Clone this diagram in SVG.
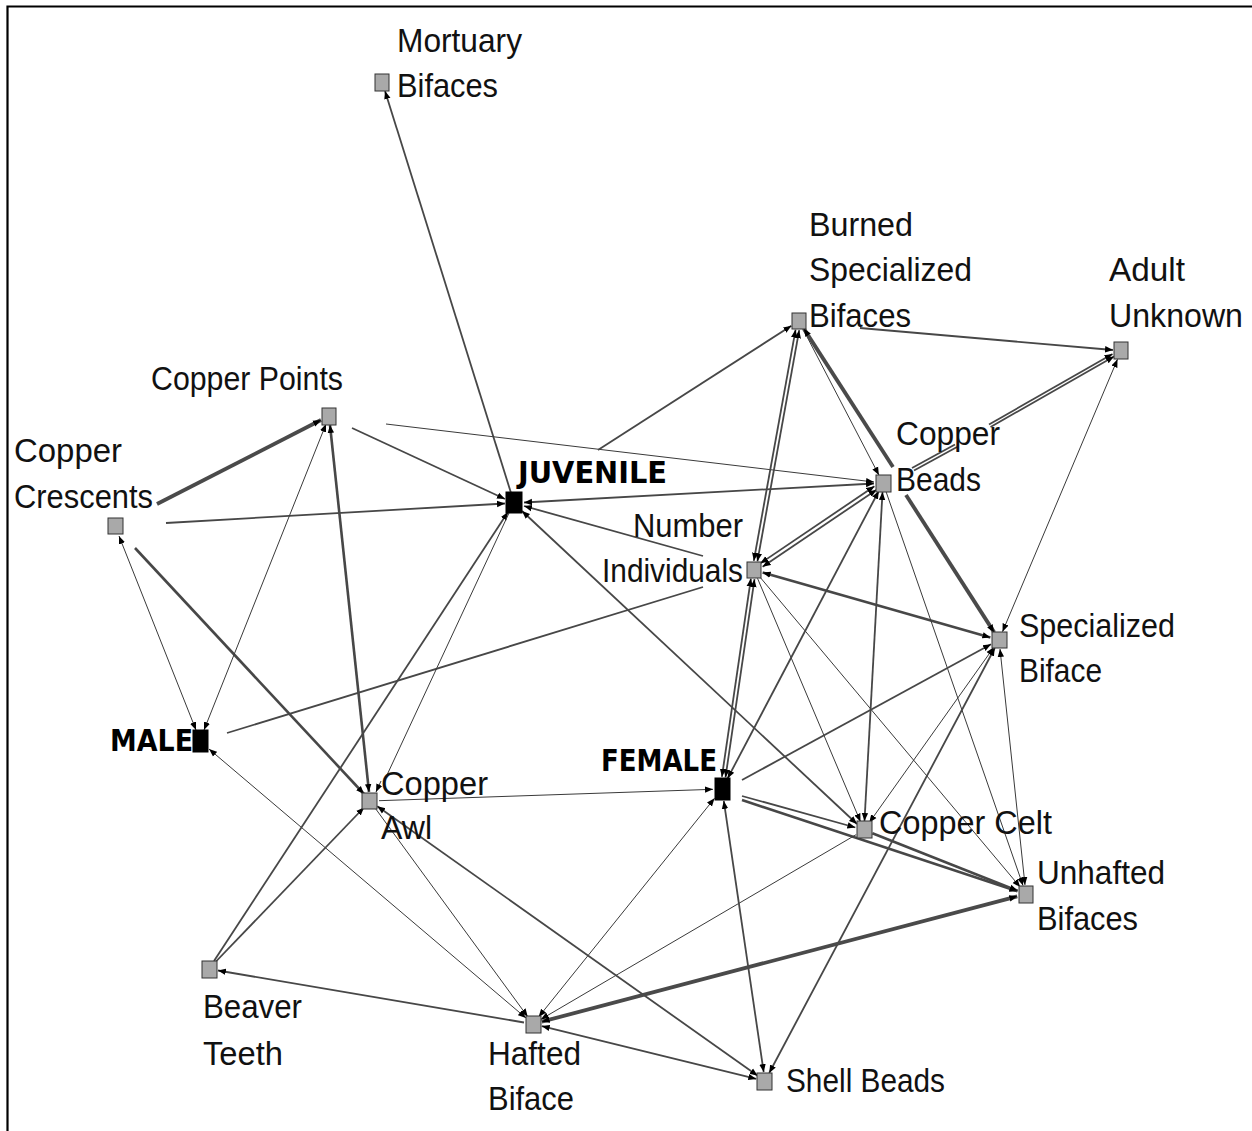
<svg xmlns="http://www.w3.org/2000/svg" width="1252" height="1131" viewBox="0 0 1252 1131">
  <style>
    .frame { stroke: #000; stroke-width: 2.2; fill: none; }
    .e { stroke: #474747; fill: none; stroke-linecap: butt; }
    .w1 { stroke-width: 1; stroke: #3a3a3a; }
    .w2 { stroke-width: 1.8; }
    .w3 { stroke-width: 2.6; }
    .w4 { stroke-width: 3.8; stroke: #4a4a4a; }
    .fwd { marker-end: url(#ah); }
    .both { marker-end: url(#ah); marker-start: url(#ah); }
    .item { fill: #a9a9a9; stroke: #333; stroke-width: 1; }
    .group { fill: #000; stroke: #000; stroke-width: 1; }
    .lbl { font-family: "Liberation Sans", Arial, sans-serif; font-size: 33px; fill: #111; }
    .bold { font-family: "DejaVu Sans", "Liberation Sans", sans-serif; font-weight: bold; font-size: 30px; fill: #000; }
  </style>
  <defs>
    <marker id="ah" viewBox="0 0 8 8" refX="8" refY="4" markerWidth="8" markerHeight="8" markerUnits="userSpaceOnUse" orient="auto-start-reverse">
      <path d="M0,0.8 L8,4 L0,7.2 Z" fill="#000"/>
    </marker>
  </defs>

  <rect width="1252" height="1131" fill="#fff"/>
  <path class="frame" d="M7.5,1131 V6.5 H1252"/>

  <g id="edges">
    <line class="e w2 fwd" x1="511" y1="493" x2="385" y2="91"/>
    <line class="e w4 fwd" x1="157" y1="504" x2="321" y2="420"/>
    <line class="e w2 fwd" x1="166" y1="523" x2="505" y2="503.5"/>
    <line class="e w3 fwd" x1="135" y1="548" x2="364" y2="794"/>
    <line class="e w1 both" x1="119" y1="536" x2="196" y2="730"/>
    <line class="e w1 both" x1="326" y1="424" x2="204" y2="730"/>
    <line class="e w2 fwd" x1="352" y1="428" x2="505" y2="499"/>
    <line class="e w1 fwd" x1="386" y1="424" x2="874" y2="482"/>
    <line class="e w3 both" x1="330" y1="425" x2="369" y2="792"/>
    <line class="e w2" x1="227" y1="733" x2="703" y2="587"/>
    <line class="e w1 both" x1="209" y1="749" x2="526" y2="1018"/>
    <line class="e w2 both" x1="524" y1="502.5" x2="874" y2="483.5"/>
    <line class="e w2 fwd" x1="703" y1="556" x2="524" y2="506"/>
    <line class="e w2 both" x1="522" y1="511" x2="857" y2="824"/>
    <line class="e w2 fwd" x1="214" y1="961" x2="508" y2="512"/>
    <line class="e w1" x1="509" y1="513" x2="387" y2="775"/>
    <line class="e w1 fwd" x1="381" y1="781" x2="376" y2="792"/>
    <line class="e w2 fwd" x1="215" y1="962.5" x2="364" y2="807.5"/>
    <line class="e w2 both" x1="762.6" y1="566.7" x2="876.6" y2="489.7"/>
    <line class="e w2 both" x1="760.4" y1="563.3" x2="874.4" y2="486.3"/>
    <line class="e w2 both" x1="757.4" y1="561.4" x2="799.2" y2="330.2"/>
    <line class="e w2 both" x1="753.8" y1="560.8" x2="795.6" y2="329.6"/>
    <line class="e w2 both" x1="754.5" y1="579.2" x2="725.5" y2="777.4"/>
    <line class="e w2 both" x1="750.9" y1="578.6" x2="721.9" y2="776.8"/>
    <line class="e w3 both" x1="762.6" y1="572.5" x2="990.4" y2="637.5"/>
    <line class="e w1 fwd" x1="757.5" y1="578.3" x2="860.5" y2="821.7"/>
    <line class="e w1 fwd" x1="759.8" y1="576.9" x2="1020.2" y2="887.1"/>
    <line class="e w1 fwd" x1="803" y1="329" x2="878.9" y2="475"/>
    <line class="e w4" x1="803.8" y1="328.6" x2="893" y2="467" marker-start="url(#ah)"/>
    <line class="e w4 fwd" x1="906" y1="495" x2="994.2" y2="632.4"/>
    <line class="e w2" x1="912" y1="468" x2="955" y2="444.5"/>
    <line class="e w2" x1="914" y1="470.5" x2="957" y2="447"/>
    <line class="e w2 fwd" x1="989" y1="424.5" x2="1112.5" y2="354"/>
    <line class="e w2 fwd" x1="990.5" y1="427" x2="1114" y2="356.5"/>
    <line class="e w2 fwd" x1="860" y1="328" x2="1113" y2="350"/>
    <line class="e w2 fwd" x1="598" y1="450" x2="791.4" y2="325.8"/>
    <line class="e w1 both" x1="1117.5" y1="359.3" x2="1002.5" y2="631.7"/>
    <line class="e w2 both" x1="882.5" y1="492" x2="864.5" y2="821"/>
    <line class="e w1 fwd" x1="886" y1="491.5" x2="1023" y2="885.5"/>
    <line class="e w2 both" x1="727.6" y1="778.4" x2="878.8" y2="491"/>
    <line class="e w2 fwd" x1="742" y1="780" x2="991" y2="644.3"/>
    <line class="e w2 fwd" x1="742" y1="796" x2="855.4" y2="827.5"/>
    <line class="e w3 fwd" x1="742" y1="800" x2="1017.5" y2="891.2"/>
    <line class="e w3 fwd" x1="872.4" y1="833.3" x2="1017.6" y2="890.7"/>
    <line class="e w1 fwd" x1="856.2" y1="834.6" x2="540.8" y2="1019.4"/>
    <line class="e w1 both" x1="869.2" y1="822.7" x2="993.8" y2="647.3"/>
    <line class="e w1 both" x1="1000" y1="649" x2="1025" y2="885"/>
    <line class="e w2 both" x1="769.2" y1="1073" x2="994.8" y2="648"/>
    <line class="e w2 both" x1="723.8" y1="800.9" x2="763.7" y2="1072.1"/>
    <line class="e w1 both" x1="714.5" y1="798.3" x2="538.6" y2="1017"/>
    <line class="e w1 fwd" x1="379" y1="800.7" x2="713" y2="789.3"/>
    <line class="e w1 fwd" x1="375.3" y1="808.3" x2="527.7" y2="1016.7"/>
    <line class="e w2 both" x1="377.3" y1="806.2" x2="757.7" y2="1075.8"/>
    <line class="e w4 both" x1="1017.3" y1="896.3" x2="541.7" y2="1021.7"/>
    <line class="e w2 fwd" x1="524" y1="1022.5" x2="217.9" y2="970.5"/>
    <line class="e w2 both" x1="541.7" y1="1026.1" x2="756.3" y2="1078.9"/>
  </g>

  <g id="node-mortuary-bifaces">
    <rect class="item" x="375" y="74" width="14" height="17"/>
    <text class="lbl" x="397" y="52" textLength="125" lengthAdjust="spacingAndGlyphs">Mortuary</text>
    <text class="lbl" x="397" y="97" textLength="101" lengthAdjust="spacingAndGlyphs">Bifaces</text>
  </g>
  <g id="node-copper-points">
    <rect class="item" x="322" y="408" width="14" height="17"/>
    <text class="lbl" x="151" y="390" textLength="192" lengthAdjust="spacingAndGlyphs">Copper Points</text>
  </g>
  <g id="node-copper-crescents">
    <rect class="item" x="108" y="518" width="15" height="16"/>
    <text class="lbl" x="14" y="462" textLength="108" lengthAdjust="spacingAndGlyphs">Copper</text>
    <text class="lbl" x="14" y="508" textLength="139" lengthAdjust="spacingAndGlyphs">Crescents</text>
  </g>
  <g id="node-juvenile">
    <rect class="group" x="506" y="492" width="16" height="21"/>
    <text class="bold" x="518" y="483" textLength="149" lengthAdjust="spacingAndGlyphs">JUVENILE</text>
  </g>
  <g id="node-number-individuals">
    <rect class="item" x="747" y="562" width="14" height="16"/>
    <text class="lbl" x="633" y="537" textLength="110" lengthAdjust="spacingAndGlyphs">Number</text>
    <text class="lbl" x="602" y="582" textLength="141" lengthAdjust="spacingAndGlyphs">Individuals</text>
  </g>
  <g id="node-burned-specialized-bifaces">
    <rect class="item" x="792" y="313" width="14" height="16"/>
    <text class="lbl" x="809" y="236" textLength="104" lengthAdjust="spacingAndGlyphs">Burned</text>
    <text class="lbl" x="809" y="281" textLength="163" lengthAdjust="spacingAndGlyphs">Specialized</text>
    <text class="lbl" x="809" y="327" textLength="102" lengthAdjust="spacingAndGlyphs">Bifaces</text>
  </g>
  <g id="node-adult-unknown">
    <rect class="item" x="1114" y="342" width="14" height="17"/>
    <text class="lbl" x="1109" y="281" textLength="76" lengthAdjust="spacingAndGlyphs">Adult</text>
    <text class="lbl" x="1109" y="327" textLength="134" lengthAdjust="spacingAndGlyphs">Unknown</text>
  </g>
  <g id="node-copper-beads">
    <rect class="item" x="876" y="475" width="15" height="17"/>
    <text class="lbl" x="896" y="445" textLength="104" lengthAdjust="spacingAndGlyphs">Copper</text>
    <text class="lbl" x="896" y="491" textLength="85" lengthAdjust="spacingAndGlyphs">Beads</text>
  </g>
  <g id="node-specialized-biface">
    <rect class="item" x="992" y="632" width="15" height="16"/>
    <text class="lbl" x="1019" y="637" textLength="156" lengthAdjust="spacingAndGlyphs">Specialized</text>
    <text class="lbl" x="1019" y="682" textLength="83" lengthAdjust="spacingAndGlyphs">Biface</text>
  </g>
  <g id="node-male">
    <rect class="group" x="193" y="730" width="15" height="22"/>
    <text class="bold" x="110" y="751" textLength="83" lengthAdjust="spacingAndGlyphs">MALE</text>
  </g>
  <g id="node-copper-awl">
    <rect class="item" x="362" y="793" width="15" height="16"/>
    <text class="lbl" x="381" y="795" textLength="107" lengthAdjust="spacingAndGlyphs">Copper</text>
    <text class="lbl" x="381" y="839" textLength="51" lengthAdjust="spacingAndGlyphs">Awl</text>
  </g>
  <g id="node-female">
    <rect class="group" x="715" y="778" width="15" height="22"/>
    <text class="bold" x="601" y="771" textLength="116" lengthAdjust="spacingAndGlyphs">FEMALE</text>
  </g>
  <g id="node-copper-celt">
    <rect class="item" x="857" y="821" width="15" height="17"/>
    <text class="lbl" x="879" y="834" textLength="173" lengthAdjust="spacingAndGlyphs">Copper Celt</text>
  </g>
  <g id="node-unhafted-bifaces">
    <rect class="item" x="1019" y="886" width="14" height="17"/>
    <text class="lbl" x="1037" y="884" textLength="128" lengthAdjust="spacingAndGlyphs">Unhafted</text>
    <text class="lbl" x="1037" y="930" textLength="101" lengthAdjust="spacingAndGlyphs">Bifaces</text>
  </g>
  <g id="node-beaver-teeth">
    <rect class="item" x="202" y="961" width="15" height="17"/>
    <text class="lbl" x="203" y="1018" textLength="99" lengthAdjust="spacingAndGlyphs">Beaver</text>
    <text class="lbl" x="203" y="1065" textLength="80" lengthAdjust="spacingAndGlyphs">Teeth</text>
  </g>
  <g id="node-hafted-biface">
    <rect class="item" x="526" y="1016" width="15" height="17"/>
    <text class="lbl" x="488" y="1065" textLength="93" lengthAdjust="spacingAndGlyphs">Hafted</text>
    <text class="lbl" x="488" y="1110" textLength="86" lengthAdjust="spacingAndGlyphs">Biface</text>
  </g>
  <g id="node-shell-beads">
    <rect class="item" x="757" y="1073" width="15" height="17"/>
    <text class="lbl" x="786" y="1092" textLength="159" lengthAdjust="spacingAndGlyphs">Shell Beads</text>
  </g>
</svg>
